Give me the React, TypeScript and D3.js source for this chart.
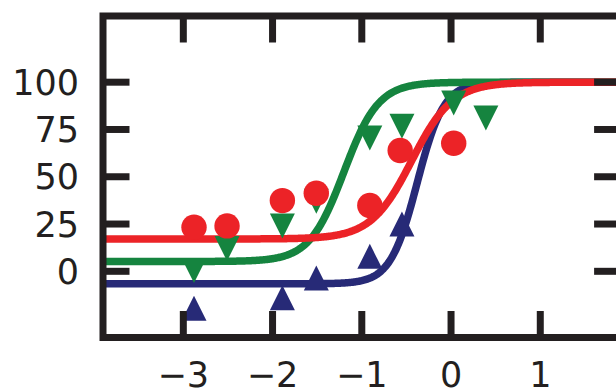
import React from "react";
import * as d3 from "d3";

const W = 616;
const H = 389;

// Axis ticks
const xTicks = [-3, -2, -1, 0, 1];
const yTicks = [0, 25, 50, 75, 100];

// Measured responses (x = log dose, y = % response)
const redX = [-2.88, -2.51, -1.89, -1.51, -0.91, -0.57, 0.03];
const redY = [23.3, 24.0, 37.4, 41.3, 34.8, 63.9, 67.7];

const greenX = [-2.88, -2.51, -1.89, -1.51, -0.91, -0.55, 0.03, 0.39];
const greenY = [0.4, 12.0, 24.0, 37.0, 70.5, 76.7, 89.0, 81.0];

const blueX = [-2.88, -1.89, -1.51, -0.91, -0.55];
const blueY = [-19.5, -14.0, -3.6, 7.9, 25.0];

// Four-parameter logistic fits, order: blue, green, red
const fitColors = ["#272a77", "#15843f", "#ec2327"];
const fitBottom = [-6.6, 5.2, 17.1];
const fitTop = [100, 100, 100];
const fitLogEC50 = [-0.38, -1.2, -0.44];
const fitHill = [2.9, 2.25, 1.9];

const INK = "#231f20";

export default function App() {
  const left = 103;
  const right = 620.6;
  const top = 16;
  const bottom = 337.5;

  const x = d3.scaleLinear().domain([-3.9, 1.9]).range([left, right]);
  const y = d3.scaleLinear().domain([-35, 135]).range([bottom, top]);

  const xs = d3.range(-3.9, 1.9001, 0.01);
  const line = d3
    .line<[number, number]>()
    .x((d) => x(d[0]))
    .y((d) => y(d[1]))
    .curve(d3.curveLinear);

  const fitPath = (i: number) =>
    line(
      xs.map((v) => [
        v,
        fitBottom[i] +
          (fitTop[i] - fitBottom[i]) /
            (1 + Math.pow(10, (fitLogEC50[i] - v) * fitHill[i])),
      ])
    ) as string;

  const h = 12.5;
  const upTri = `M0,${-h}L${h},${h}L${-h},${h}Z`;
  const downTri = `M0,${h}L${h},${-h}L${-h},${-h}Z`;

  const tickLen = 23;
  const sw = 7;

  return (
    <svg
      width={W}
      height={H}
      style={{ position: "absolute", left: 0, top: 0, background: "#fff" }}
      fontFamily="DejaVu Sans"
    >
      <defs>
        <clipPath id="plotArea">
          <rect x={left} y={top} width={right - left} height={bottom - top} />
        </clipPath>
      </defs>
      <rect x={0} y={0} width={W} height={H} fill="#fff" />

      <g clipPath="url(#plotArea)">
        {fitColors.map((c, i) => (
          <path key={i} d={fitPath(i)} fill="none" stroke={c} strokeWidth={7.5} />
        ))}

        {blueX.map((v, i) => (
          <path
            key={"b" + i}
            d={upTri}
            transform={`translate(${x(v)},${y(blueY[i])})`}
            fill={fitColors[0]}
          />
        ))}
        {greenX.map((v, i) => (
          <path
            key={"g" + i}
            d={downTri}
            transform={`translate(${x(v)},${y(greenY[i])})`}
            fill={fitColors[1]}
          />
        ))}
        {redX.map((v, i) => (
          <circle key={"r" + i} cx={x(v)} cy={y(redY[i])} r={12.7} fill={fitColors[2]} />
        ))}
      </g>

      {/* inward ticks on all four sides */}
      <g stroke={INK} strokeWidth={sw}>
        {xTicks.map((t) => (
          <g key={"xt" + t}>
            <line x1={x(t)} x2={x(t)} y1={bottom} y2={bottom - sw / 2 - tickLen} />
            <line x1={x(t)} x2={x(t)} y1={top} y2={top + sw / 2 + tickLen} />
          </g>
        ))}
        {yTicks.map((t) => (
          <g key={"yt" + t}>
            <line x1={left} x2={left + sw / 2 + tickLen} y1={y(t)} y2={y(t)} />
            <line x1={right} x2={right - sw / 2 - tickLen} y1={y(t)} y2={y(t)} />
          </g>
        ))}
      </g>

      <rect
        x={left}
        y={top}
        width={right - left}
        height={bottom - top}
        fill="none"
        stroke={INK}
        strokeWidth={sw}
        strokeLinejoin="miter"
        strokeLinecap="square"
      />

      <g fill={INK} fontSize={35}>
        {yTicks.map((t) => (
          <text key={"yl" + t} x={79} y={y(t)} dy="0.36em" textAnchor="end">
            {d3.format("d")(t)}
          </text>
        ))}
        {xTicks.map((t) => (
          <text key={"xl" + t} x={x(t)} y={387} textAnchor="middle">
            {t < 0 ? "\u2212" + Math.abs(t) : String(t)}
          </text>
        ))}
      </g>
    </svg>
  );
}
